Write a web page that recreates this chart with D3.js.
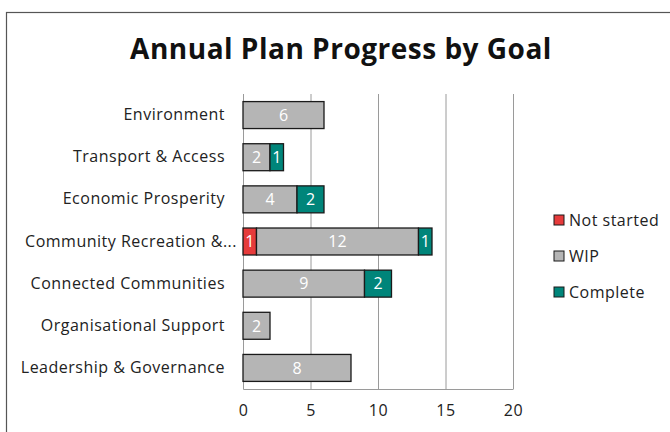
<!DOCTYPE html>
<html>
<head>
<meta charset="utf-8">
<script src="https://cdn.jsdelivr.net/npm/d3@7"></script>
<style>
  body { margin: 0; background: #fff; }
  svg { display: block; font-family: "Open Sans", "Noto Sans", sans-serif; }
</style>
</head>
<body>
<svg width="670" height="432"></svg>
<script>
  var goals = ["Environment", "Transport & Access", "Economic Prosperity",
               "Community Recreation &...", "Connected Communities",
               "Organisational Support", "Leadership & Governance"];
  var notStarted = [0, 0, 0, 1, 0, 0, 0];
  var wip = [6, 2, 4, 12, 9, 2, 8];
  var complete = [0, 1, 2, 1, 2, 0, 0];
  var seriesNames = ["Not started", "WIP", "Complete"];
  var xTicks = [0, 5, 10, 15, 20];

  var colors = {"Not started": "#e63b3b", "WIP": "#b5b5b5", "Complete": "#00857a"};

  var svg = d3.select("svg"),
      margin = {top: 94, left: 243, right: 157, bottom: 43},
      width = 670 - margin.left - margin.right,
      height = 432 - margin.top - margin.bottom;

  // outer chart border (runs off the right/bottom)
  svg.append("rect")
    .attr("x", 6.5).attr("y", 12.5)
    .attr("width", 700).attr("height", 460)
    .attr("fill", "none").attr("stroke", "#555").attr("stroke-width", 1.2);

  svg.append("text")
    .attr("x", 341).attr("y", 59)
    .attr("text-anchor", "middle")
    .attr("font-size", 28).attr("font-weight", 700)
    .attr("letter-spacing", 0.5)
    .attr("fill", "#111")
    .text("Annual Plan Progress by Goal");

  var rows = goals.map(function(g, i) {
    return {goal: g, "Not started": notStarted[i], "WIP": wip[i], "Complete": complete[i]};
  });

  var x = d3.scaleLinear().domain([0, 20]).range([0, width]);
  var y = d3.scaleBand().domain(goals).range([0, height]).paddingInner(0.36).paddingOuter(0.18);

  var g = svg.append("g")
    .attr("transform", "translate(" + margin.left + "," + margin.top + ")");

  // gridlines
  g.append("g")
    .call(d3.axisBottom(x).tickValues(xTicks).tickSize(height).tickFormat(""))
    .call(function(s) {
      s.select(".domain").remove();
      s.selectAll("line").attr("stroke", "#9a9a9a");
    });

  // x axis line + labels
  g.append("g")
    .attr("transform", "translate(0," + height + ")")
    .call(d3.axisBottom(x).tickValues(xTicks).tickSize(0).tickPadding(16))
    .call(function(s) {
      s.select(".domain").attr("stroke", "#9a9a9a");
      s.selectAll("text").attr("font-size", 16).attr("fill", "#222")
        .attr("letter-spacing", 0.5)
        .attr("font-family", "'Open Sans', sans-serif");
    });

  // y axis
  g.append("g")
    .call(d3.axisLeft(y).tickSize(0).tickPadding(18))
    .call(function(s) {
      s.select(".domain").attr("stroke", "#9a9a9a");
      s.selectAll("text").attr("font-size", 16).attr("fill", "#222")
        .attr("letter-spacing", 0.5)
        .attr("font-family", "'Open Sans', sans-serif")
        // truncated label overflows toward the axis like in the source
        .attr("dx", function(d) { return d.slice(-3) === "..." ? 12 : 0; });
    });

  var stacked = d3.stack().keys(seriesNames)(rows);

  var layer = g.selectAll(".layer").data(stacked)
    .enter().append("g")
    .attr("class", "layer")
    .attr("fill", function(d) { return colors[d.key]; });

  layer.selectAll("rect")
    .data(function(d) { return d.filter(function(p) { return p[1] - p[0] > 0; }); })
    .enter().append("rect")
    .attr("x", function(d) { return x(d[0]); })
    .attr("y", function(d) { return y(d.data.goal); })
    .attr("width", function(d) { return x(d[1]) - x(d[0]); })
    .attr("height", y.bandwidth())
    .attr("stroke", "#1a1a1a").attr("stroke-width", 1.3);

  layer.selectAll("text")
    .data(function(d) { return d.filter(function(p) { return p[1] - p[0] > 0; }); })
    .enter().append("text")
    .attr("x", function(d) { return (x(d[0]) + x(d[1])) / 2; })
    .attr("y", function(d) { return y(d.data.goal) + y.bandwidth() / 2; })
    .attr("dy", "0.36em")
    .attr("text-anchor", "middle")
    .attr("font-size", 16)
    .attr("fill", "#fff")
    .text(function(d) { return d[1] - d[0]; });

  // legend
  var legend = svg.append("g").attr("transform", "translate(554,220)");
  var item = legend.selectAll("g").data(seriesNames)
    .enter().append("g")
    .attr("transform", function(d, i) { return "translate(0," + (i * 36) + ")"; });
  item.append("rect")
    .attr("x", 0).attr("y", -5).attr("width", 10).attr("height", 10)
    .attr("fill", function(d) { return colors[d]; })
    .attr("stroke", "#1a1a1a").attr("stroke-width", 1);
  item.append("text")
    .attr("x", 15).attr("dy", "0.36em")
    .attr("font-size", 16).attr("fill", "#222")
    .attr("letter-spacing", 0.5)
    .text(function(d) { return d; });
</script>
</body>
</html>
